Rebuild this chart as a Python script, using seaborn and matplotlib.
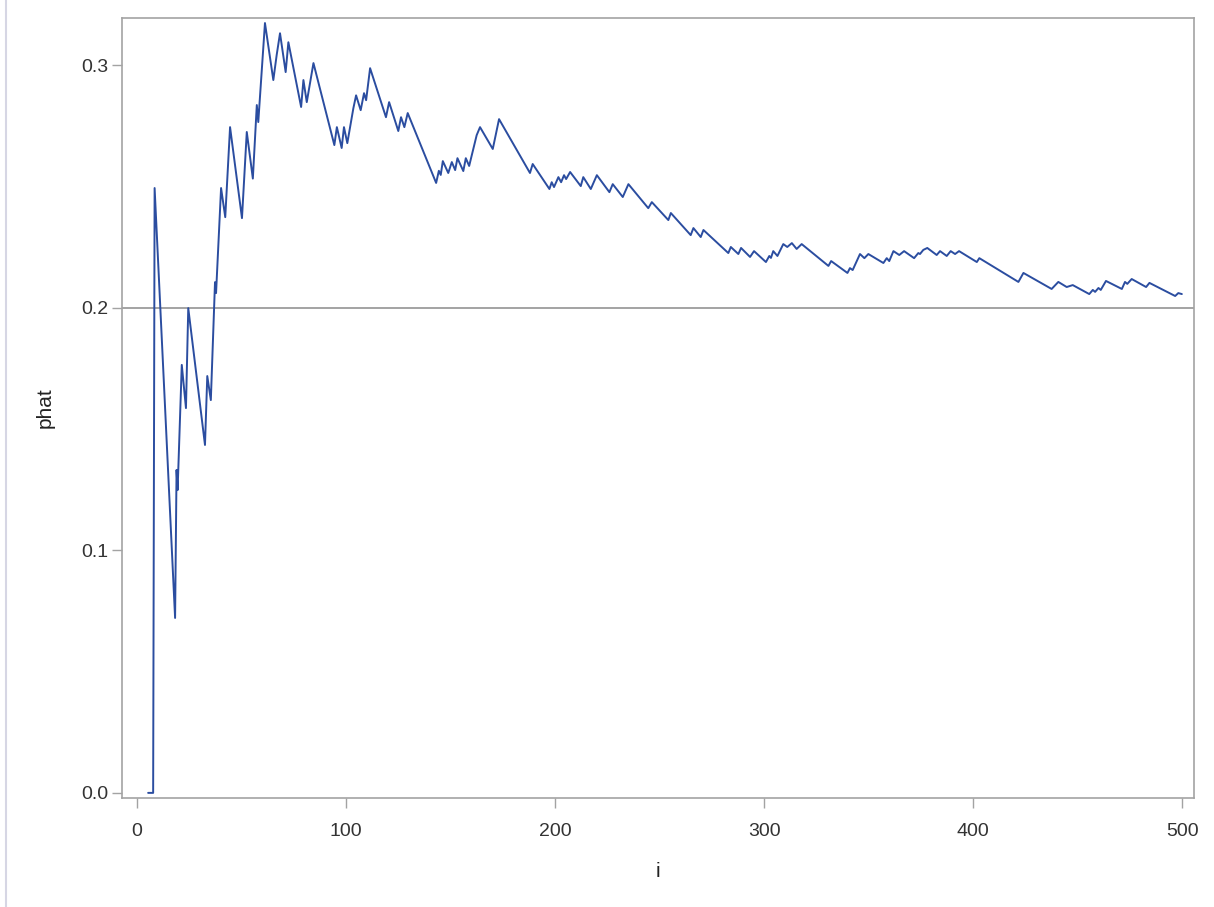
import matplotlib

matplotlib.use("Agg")
import matplotlib.pyplot as plt
from matplotlib.lines import Line2D
import pandas as pd
import seaborn as sns

# running proportion, vertices
i_vals = [
    5.3, 7.7, 8.4, 18.2, 18.9, 19.4, 21.4, 23.4, 24.5, 32.5, 33.6, 35.3, 37.3, 37.8,
    40.2, 42.2, 44.5, 50.2, 52.5, 55.4, 57.3, 58.0, 61.2, 65.2, 66.8, 68.4, 71.1,
    72.4, 78.5, 79.6, 81.2, 84.4, 94.4, 95.6, 97.9, 99.0, 100.6, 103.5, 104.8,
    107.0, 108.6, 109.6, 111.5, 119.1, 120.6, 125.0, 126.3, 127.9, 129.5, 143.1,
    144.4, 145.3, 146.3, 148.9, 150.6, 152.2, 153.3, 156.1, 157.3, 158.9, 162.5,
    164.1, 170.2, 173.2, 188.0, 189.3, 197.3, 198.4, 199.5, 201.6, 202.9, 204.3,
    205.3, 207.2, 212.3, 213.5, 217.1, 220.0, 226.0, 227.6, 232.4, 235.1, 244.6,
    246.3, 254.2, 255.4, 264.9, 266.2, 269.7, 271.0, 282.9, 284.1, 287.7, 289.0,
    293.3, 295.2, 300.9, 302.5, 303.3, 304.4, 306.4, 309.2, 311.1, 313.3, 315.6,
    318.0, 330.8, 332.1, 339.9, 341.1, 342.4, 345.9, 348.0, 349.9, 357.1, 358.7,
    359.9, 361.9, 364.7, 367.0, 371.8, 373.8, 374.6, 376.2, 378.1, 382.6, 384.2,
    387.4, 389.3, 391.4, 393.3, 401.8, 403.0, 421.7, 424.1, 437.6, 440.8, 444.8,
    447.7, 455.6, 457.3, 458.4, 460.0, 461.1, 463.6, 471.2, 472.7, 473.8, 475.9,
    482.8, 484.4, 496.7, 498.2, 499.9,
]
phat_vals = [
    0.0, 0.0, 0.2493, 0.0721, 0.1331, 0.1248, 0.1764, 0.1586, 0.1998, 0.1434,
    0.1718, 0.1619, 0.2105, 0.2060, 0.2493, 0.2373, 0.2744, 0.2369, 0.2724, 0.2532,
    0.2835, 0.2765, 0.3173, 0.2938, 0.3041, 0.3131, 0.2971, 0.3094, 0.2827, 0.2938,
    0.2847, 0.3008, 0.2670, 0.2744, 0.2658, 0.2744, 0.2678, 0.2822, 0.2875, 0.2814,
    0.2884, 0.2855, 0.2987, 0.2785, 0.2847, 0.2728, 0.2785, 0.2744, 0.2802, 0.2514,
    0.2564, 0.2547, 0.2604, 0.2555, 0.2600, 0.2567, 0.2616, 0.2563, 0.2616, 0.2584,
    0.2711, 0.2744, 0.2654, 0.2777, 0.2555, 0.2592, 0.2489, 0.2517, 0.2497, 0.2538,
    0.2517, 0.2546, 0.2530, 0.2559, 0.2501, 0.2538, 0.2489, 0.2546, 0.2476, 0.2509,
    0.2456, 0.2509, 0.2410, 0.2435, 0.2361, 0.2390, 0.2299, 0.2328, 0.2291, 0.2320,
    0.2225, 0.2250, 0.2221, 0.2246, 0.2209, 0.2233, 0.2188, 0.2213, 0.2205, 0.2233,
    0.2213, 0.2262, 0.2250, 0.2266, 0.2242, 0.2262, 0.2172, 0.2192, 0.2143, 0.2163,
    0.2155, 0.2221, 0.2204, 0.2221, 0.2184, 0.2204, 0.2192, 0.2233, 0.2217, 0.2233,
    0.2204, 0.2225, 0.2221, 0.2238, 0.2246, 0.2217, 0.2233, 0.2213, 0.2233, 0.2221,
    0.2233, 0.2188, 0.2204, 0.2106, 0.2143, 0.2077, 0.2106, 0.2085, 0.2093, 0.2056,
    0.2073, 0.2065, 0.2081, 0.2073, 0.2110, 0.2077, 0.2106, 0.2098, 0.2118, 0.2085,
    0.2102, 0.2048, 0.2060, 0.2056,
]
ref_value = 0.2
x_ticks = [0, 100, 200, 300, 400, 500]
y_ticks = [0.0, 0.1, 0.2, 0.3]

sns.set_theme(style="white")
plt.rcParams["font.family"] = ["Liberation Sans", "DejaVu Sans"]

frame_col = "#A3A3A3"
line_col = "#2B4DA0"

fig = plt.figure(figsize=(12.14, 9.07), dpi=100)
ax = fig.add_axes([0.1005, 0.1202, 0.883, 0.8600])

df = pd.DataFrame({"i": i_vals, "phat": phat_vals})
ax.axhline(ref_value, color=frame_col, linewidth=1.4, zorder=1)
sns.lineplot(data=df, x="i", y="phat", estimator=None, sort=False,
             color=line_col, linewidth=1.4, ax=ax, zorder=2)

ax.set_xlim(-7.2, 505.7)
ax.set_ylim(-0.0021, 0.3194)
ax.set_xticks(x_ticks)
ax.set_xticklabels([str(t) for t in x_ticks])
ax.set_yticks(y_ticks)
ax.set_yticklabels([f"{t:.1f}" for t in y_ticks])

for s in ax.spines.values():
    s.set_color(frame_col)
    s.set_linewidth(1.2)
ax.tick_params(axis="both", direction="out", length=7, width=1,
               color=frame_col, labelcolor="#333333", labelsize=14,
               bottom=True, left=True)
ax.tick_params(axis="x", pad=11)
ax.tick_params(axis="y", pad=3)
ax.set_xlabel("i", fontsize=15, color="#222222", labelpad=16)
ax.set_ylabel("phat", fontsize=15, color="#222222", labelpad=19)

# thin page border on the left of the screenshot
fig.add_artist(Line2D([0.005, 0.005], [0, 1], transform=fig.transFigure,
                      color="#D6D6E4", linewidth=1.5))

fig.savefig("out.png", dpi=100)
